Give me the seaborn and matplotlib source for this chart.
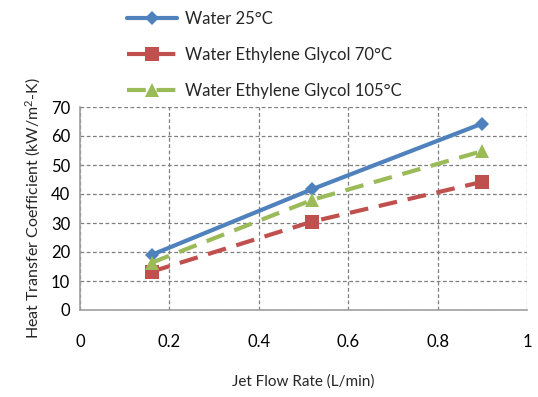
import matplotlib
matplotlib.use("Agg")
import matplotlib.pyplot as plt
import seaborn as sns
import pandas as pd

flow = [0.16, 0.52, 0.90]
water_25 = [19.0, 41.7, 64.3]
eg_70 = [13.2, 30.5, 44.2]
eg_105 = [16.3, 38.0, 54.8]
labels = ["Water 25°C", "Water Ethylene Glycol 70°C", "Water Ethylene Glycol 105°C"]

df = pd.concat([
    pd.DataFrame({"x": flow, "y": water_25, "s": labels[0]}),
    pd.DataFrame({"x": flow, "y": eg_70, "s": labels[1]}),
    pd.DataFrame({"x": flow, "y": eg_105, "s": labels[2]}),
])

sns.set_style("white")
plt.rcParams['font.family'] = ['Lato', 'DejaVu Sans']
plt.rcParams['mathtext.fontset'] = 'custom'
plt.rcParams['mathtext.rm'] = 'Lato'
plt.rcParams['mathtext.it'] = 'Lato:italic'

fig = plt.figure(figsize=(5.38, 3.97), dpi=100)
ax = fig.add_axes([80/538, 1-310/397, (527-80)/538, (310-107)/397])

colors = {labels[0]: "#4F81BD", labels[1]: "#C0504D", labels[2]: "#9BBB59"}
markers = {labels[0]: "D", labels[1]: "s", labels[2]: "^"}
dashes = {labels[0]: "", labels[1]: (4.5, 2.6), labels[2]: (4.5, 2.6)}
msize = {labels[0]: 7, labels[1]: 9.5, labels[2]: 10}

for lab in labels:
    sub = df[df["s"] == lab]
    sns.lineplot(data=sub, x="x", y="y", ax=ax, color=colors[lab], marker=markers[lab],
                 markersize=msize[lab], markeredgewidth=0, linewidth=3,
                 dashes=False, label=lab)
    line = ax.lines[-1]
    if dashes[lab]:
        line.set_dashes(dashes[lab])

ax.set_xlim(0, 1)
ax.set_ylim(0, 70)
ax.set_xticks([0, 0.2, 0.4, 0.6, 0.8, 1])
ax.set_xticklabels(["0", "0.2", "0.4", "0.6", "0.8", "1"])
ax.set_yticks(range(0, 71, 10))
ax.grid(True, color="#7f7f7f", linestyle=(0, (3, 2)), linewidth=0.9)
for s in ["top", "right"]:
    ax.spines[s].set_visible(False)
for s in ["left", "bottom"]:
    ax.spines[s].set_color("#a0a0a0")
    ax.spines[s].set_linewidth(1.2)
ax.tick_params(axis="both", which="both", direction="inout", length=6, width=1, color="#a0a0a0",
               labelsize=12, colors="#a0a0a0", labelcolor="black", pad=4)
ax.tick_params(axis="x", pad=14)
ax.set_xlabel("Jet Flow Rate (L/min)", fontsize=11, labelpad=18)
ax.set_ylabel("Heat Transfer Coefficient (kW/m$^{2}$-K)", fontsize=11.5, labelpad=6)

leg = ax.legend(loc="upper left", bbox_to_anchor=(112/538, 1.01), bbox_transform=fig.transFigure,
                frameon=False, fontsize=12, labelspacing=1.2, handlelength=3.0, handletextpad=0.5)

fig.savefig("out.png", dpi=100)
